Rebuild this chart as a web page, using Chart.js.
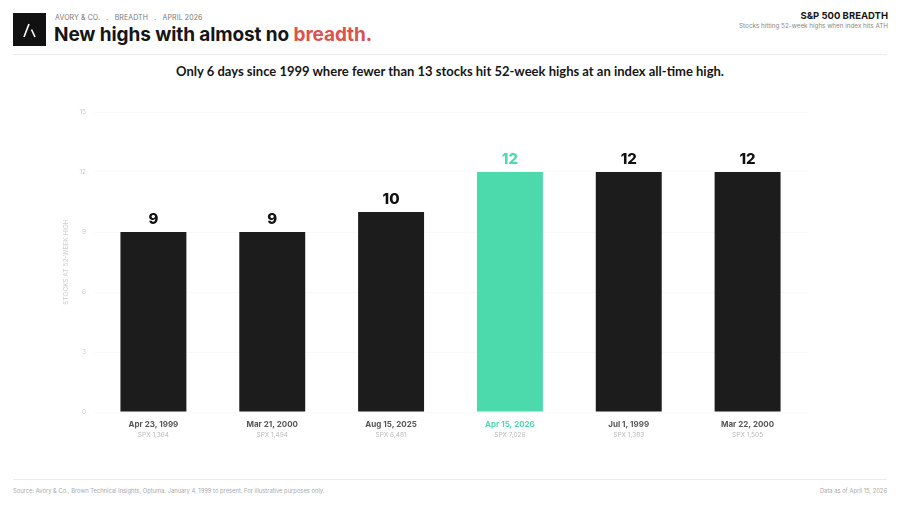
<!DOCTYPE html>
<html>
<head>
<meta charset="utf-8">
<script src="https://cdn.jsdelivr.net/npm/chart.js@4.4.1/dist/chart.umd.min.js"></script>
<style>
  html, body { margin: 0; padding: 0; background: #fff; }
  body { width: 900px; height: 506px; position: relative; overflow: hidden; font-family: Inter, "Noto Sans", sans-serif; }
  .logo { position: absolute; left: 13px; top: 13px; width: 33px; height: 33px; background: #111; }
  .logo svg { position: absolute; left: 0; top: 0; }
  .kicker { position: absolute; left: 55px; top: 13px; font-size: 7px; color: #777; letter-spacing: 0.1px; }
  .title { position: absolute; left: 54px; top: 23px; font-size: 19px; font-weight: 650; color: #161616; letter-spacing: -0.1px; }
  .title span { color: #d9534f; }
  .rtitle { position: absolute; right: 12px; top: 10px; font-size: 9.5px; font-weight: 700; color: #161616; }
  .rsub { position: absolute; right: 12px; top: 22px; font-size: 6.3px; color: #888; }
  .rule { position: absolute; left: 13px; right: 13px; height: 1px; background: #ececec; }
  .lede { position: absolute; left: 0; width: 900px; top: 63px; text-align: center; font-family: Lato, sans-serif; font-weight: 700; font-size: 13px; color: #161616; }
  .foot { position: absolute; top: 487px; font-size: 5.8px; color: #aaa; }
  #wrap { position: absolute; left: 0; top: 100px; width: 900px; height: 345px; }
</style>
</head>
<body>
<div class="logo">
  <svg width="33" height="33" viewBox="0 0 33 33">
    <line x1="11" y1="24" x2="16" y2="11" stroke="#fff" stroke-width="1.6"/>
    <line x1="18.5" y1="16.5" x2="22" y2="24" stroke="#fff" stroke-width="1.6"/>
  </svg>
</div>
<div class="kicker">AVORY &amp; CO.&nbsp;&nbsp; .&nbsp;&nbsp; BREADTH&nbsp;&nbsp; .&nbsp;&nbsp; APRIL 2026</div>
<div class="title">New highs with almost no <span>breadth.</span></div>
<div class="rtitle">S&amp;P 500 BREADTH</div>
<div class="rsub">Stocks hitting 52-week highs when index hits ATH</div>
<div class="rule" style="top:54px"></div>
<div class="lede">Only 6 days since 1999 where fewer than 13 stocks hit 52-week highs at an index all-time high.</div>
<div id="wrap"><canvas id="chart"></canvas></div>
<div class="rule" style="top:479px"></div>
<div class="foot" style="left:13px">Source: Avory &amp; Co., Brown Technical Insights, Optuma. January 4, 1999 to present. For illustrative purposes only.</div>
<div class="foot" style="right:13px">Data as of April 15, 2026</div>

<script>
const dates = ["Apr 23, 1999", "Mar 21, 2000", "Aug 15, 2025", "Apr 15, 2026", "Jul 1, 1999", "Mar 22, 2000"];
const spxLevels = ["SPX 1,364", "SPX 1,494", "SPX 6,481", "SPX 7,026", "SPX 1,383", "SPX 1,505"];
const stocksAtHigh = [9, 9, 10, 12, 12, 12];
const highlightIndex = 3;

const DARK = "#1c1c1c";
const TEAL = "#4cdaad";

const barColors = stocksAtHigh.map((v, i) => i === highlightIndex ? TEAL : DARK);

const valueLabels = {
  id: "valueLabels",
  afterDatasetsDraw(chart) {
    const ctx = chart.ctx;
    const meta = chart.getDatasetMeta(0);
    ctx.save();
    ctx.font = "800 15px Inter, sans-serif";
    ctx.textAlign = "center";
    ctx.textBaseline = "bottom";
    meta.data.forEach((bar, i) => {
      ctx.fillStyle = i === highlightIndex ? TEAL : "#111";
      ctx.fillText(String(stocksAtHigh[i]), bar.x, bar.y - 5);
    });
    ctx.restore();
  }
};

const spxLine = {
  id: "spxLine",
  afterDraw(chart) {
    const ctx = chart.ctx;
    const x = chart.scales.x;
    ctx.save();
    ctx.font = "400 6.5px Inter, sans-serif";
    ctx.textAlign = "center";
    ctx.textBaseline = "middle";
    ctx.fillStyle = "#bbb";
    spxLevels.forEach((s, i) => {
      ctx.fillText(s, x.getPixelForValue(i), chart.chartArea.bottom + 23);
    });
    ctx.restore();
  }
};

new Chart("chart", {
  type: "bar",
  data: {
    labels: dates,
    datasets: [{
      data: stocksAtHigh,
      backgroundColor: barColors,
      borderWidth: 0,
      categoryPercentage: 1,
      barPercentage: 0.555,
    }],
  },
  options: {
    responsive: true,
    maintainAspectRatio: false,
    animation: false,
    layout: { padding: { left: 55, right: 93, top: 12, bottom: 0 } },
    plugins: {
      legend: { display: false },
      tooltip: { enabled: false },
    },
    scales: {
      x: {
        grid: { display: false, drawTicks: false },
        border: { display: false },
        ticks: {
          padding: 8,
          maxRotation: 0,
          color: (c) => c.index === highlightIndex ? TEAL : "#555",
          font: { family: "Inter, sans-serif", size: 8, weight: "700" },
        },
        afterFit(scale) { scale.height = 33; },
      },
      y: {
        min: 0,
        max: 15,
        ticks: {
          stepSize: 3,
          padding: 8,
          color: "#ccc",
          font: { family: "Inter, sans-serif", size: 6.5 },
        },
        grid: { color: "rgba(0,0,0,0.025)", drawTicks: false },
        border: { display: false },
        title: {
          display: true,
          text: "STOCKS AT 52-WEEK HIGH",
          color: "#ccc",
          padding: { top: 7, bottom: 0 },
          font: { family: "Inter, sans-serif", size: 6.5 },
        },
        afterFit(scale) { scale.width = 39; },
      },
    },
  },
  plugins: [valueLabels, spxLine],
});
</script>
</body>
</html>
